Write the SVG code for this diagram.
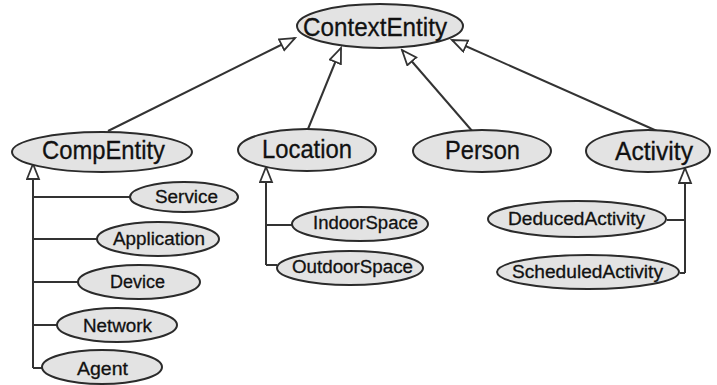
<svg xmlns="http://www.w3.org/2000/svg" width="717" height="385" viewBox="0 0 717 385">
<style>
.n ellipse{fill:#e3e3e3;stroke:#2b2b2b;stroke-width:2}
.n text{font-family:"Liberation Sans",Arial,sans-serif;fill:#111;text-anchor:start;stroke:#111;stroke-width:0.3}
.big{font-size:25px}
.small{font-size:18px}
#edges path{fill:none;stroke:#333;stroke-width:2}
</style>
<defs>
<marker id="tri" markerUnits="userSpaceOnUse" markerWidth="18" markerHeight="16" refX="16" refY="7" orient="auto" viewBox="0 0 18 16">
<path d="M1,1 L16,7 L1,13 z" fill="#fff" stroke="#333" stroke-width="1.8"/>
</marker>
</defs>
<rect width="717" height="385" fill="#fff"/>
<g id="edges">
<path d="M108,131 L295,38" marker-end="url(#tri)"/>
<path d="M308,129 L341,48" marker-end="url(#tri)"/>
<path d="M473,132 L402,50" marker-end="url(#tri)"/>
<path d="M657,131 L452,40" marker-end="url(#tri)"/>
<path d="M33,368 L33,164" marker-end="url(#tri)"/>
<path d="M33,197 H130 M33,239 H97 M33,282 H78 M33,325 H57 M33,368 H42"/>
<path d="M266,265 L266,167" marker-end="url(#tri)"/>
<path d="M266,225 H292 M266,265 H277"/>
<path d="M685,273 L685,168" marker-end="url(#tri)"/>
<path d="M667,220 H685 M680,273 H685"/>
</g>
<g id="ContextEntity" class="n"><ellipse cx="380" cy="26" rx="83" ry="22"/><text class="big" x="303" y="36" textLength="144" lengthAdjust="spacingAndGlyphs">ContextEntity</text></g>
<g id="CompEntity" class="n"><ellipse cx="102" cy="152" rx="90" ry="20"/><text class="big" x="42" y="159" textLength="123" lengthAdjust="spacingAndGlyphs">CompEntity</text></g>
<g id="Location" class="n"><ellipse cx="307" cy="150" rx="69" ry="21"/><text class="big" x="262" y="158" textLength="90" lengthAdjust="spacingAndGlyphs">Location</text></g>
<g id="Person" class="n"><ellipse cx="482" cy="151" rx="69" ry="21"/><text class="big" x="445" y="159" textLength="75" lengthAdjust="spacingAndGlyphs">Person</text></g>
<g id="Activity" class="n"><ellipse cx="648" cy="151" rx="62" ry="21"/><text class="big" x="615" y="160" textLength="78" lengthAdjust="spacingAndGlyphs">Activity</text></g>
<g id="Service" class="n"><ellipse cx="184" cy="197" rx="54" ry="15"/><text class="small" x="155" y="203" textLength="63" lengthAdjust="spacingAndGlyphs">Service</text></g>
<g id="Application" class="n"><ellipse cx="158" cy="239" rx="61" ry="17"/><text class="small" x="113" y="245" textLength="92" lengthAdjust="spacingAndGlyphs">Application</text></g>
<g id="Device" class="n"><ellipse cx="139" cy="282" rx="61" ry="17"/><text class="small" x="110" y="288" textLength="55" lengthAdjust="spacingAndGlyphs">Device</text></g>
<g id="Network" class="n"><ellipse cx="117" cy="325" rx="60" ry="17"/><text class="small" x="83" y="332" textLength="69" lengthAdjust="spacingAndGlyphs">Network</text></g>
<g id="Agent" class="n"><ellipse cx="102" cy="367" rx="60" ry="17"/><text class="small" x="77" y="375" textLength="51" lengthAdjust="spacingAndGlyphs">Agent</text></g>
<g id="IndoorSpace" class="n"><ellipse cx="360" cy="224" rx="68" ry="17"/><text class="small" x="313" y="229" textLength="105" lengthAdjust="spacingAndGlyphs">IndoorSpace</text></g>
<g id="OutdoorSpace" class="n"><ellipse cx="350" cy="268" rx="73" ry="17"/><text class="small" x="292" y="273" textLength="121" lengthAdjust="spacingAndGlyphs">OutdoorSpace</text></g>
<g id="DeducedActivity" class="n"><ellipse cx="577" cy="219" rx="89" ry="18"/><text class="small" x="508" y="225" textLength="137" lengthAdjust="spacingAndGlyphs">DeducedActivity</text></g>
<g id="ScheduledActivity" class="n"><ellipse cx="588" cy="272" rx="91" ry="17"/><text class="small" x="512" y="278" textLength="151" lengthAdjust="spacingAndGlyphs">ScheduledActivity</text></g>
</svg>
